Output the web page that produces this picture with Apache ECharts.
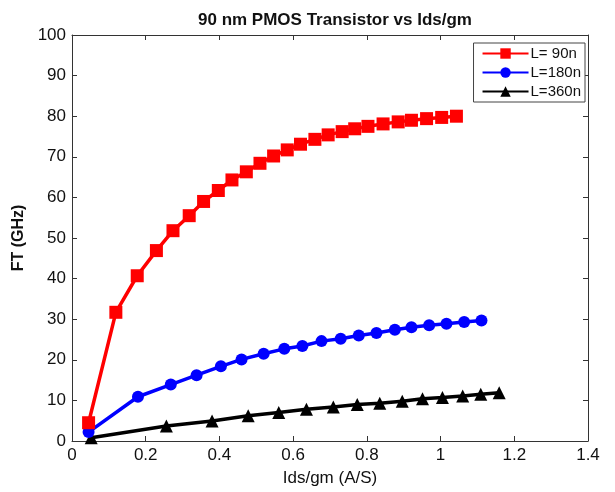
<!DOCTYPE html>
<html>
<head>
<meta charset="utf-8">
<script src="https://cdn.jsdelivr.net/npm/echarts@6/dist/echarts.min.js"></script>
<style>html,body{margin:0;padding:0;background:#fff;}#c{width:615px;height:492px;}</style>
</head>
<body>
<div id="c"></div>
<script>
var xL90 = [0.045, 0.119, 0.177, 0.229, 0.274, 0.318, 0.357, 0.397, 0.434, 0.473, 0.510, 0.547, 0.584, 0.620, 0.659, 0.695, 0.733, 0.767, 0.803, 0.844, 0.885, 0.921, 0.962, 1.003, 1.043];
var yL90 = [4.5, 31.7, 40.7, 46.9, 51.8, 55.5, 59.0, 61.7, 64.3, 66.3, 68.4, 70.2, 71.7, 73.1, 74.3, 75.4, 76.2, 76.9, 77.5, 78.1, 78.6, 79.0, 79.4, 79.7, 80.0];
var xL180 = [0.045, 0.179, 0.268, 0.338, 0.404, 0.460, 0.520, 0.576, 0.625, 0.677, 0.729, 0.778, 0.826, 0.876, 0.921, 0.969, 1.016, 1.064, 1.111];
var yL180 = [2.2, 10.9, 13.9, 16.2, 18.4, 20.1, 21.5, 22.7, 23.4, 24.6, 25.2, 26.0, 26.6, 27.4, 28.0, 28.5, 28.9, 29.3, 29.7];
var xL360 = [0.052, 0.256, 0.380, 0.478, 0.561, 0.636, 0.709, 0.774, 0.835, 0.896, 0.951, 1.005, 1.060, 1.109, 1.159];
var yL360 = [0.8, 3.7, 4.9, 6.2, 7.0, 7.8, 8.4, 9.0, 9.3, 9.8, 10.4, 10.7, 11.1, 11.5, 11.9];
var xTicks = [0, 0.2, 0.4, 0.6, 0.8, 1, 1.2, 1.4];
var yTicks = [0, 10, 20, 30, 40, 50, 60, 70, 80, 90, 100];
var seriesNames = ['L= 90n', 'L=180n', 'L=360n'];

function pairs(xs, ys) { return xs.map(function (x, i) { return [x, ys[i]]; }); }

var FONT = 'Liberation Sans, Arial, sans-serif';
var chart = echarts.init(document.getElementById('c'));
function axisCommon() {
  return {
    axisLine: { show: true, onZero: false, lineStyle: { color: '#333', width: 1 } },
    axisTick: { show: true, inside: true, length: 5, lineStyle: { color: '#333' } },
    splitLine: { show: false }
  };
}
chart.setOption({
  animation: false,
  backgroundColor: '#fff',
  title: {
    text: '90 nm PMOS Transistor vs Ids/gm',
    left: 330, top: 7, textAlign: 'center',
    textStyle: { fontFamily: FONT, fontSize: 17, fontWeight: 'bold', color: '#111' }
  },
  legend: {
    orient: 'vertical',
    right: 30, top: 43,
    backgroundColor: '#fff',
    borderColor: '#444', borderWidth: 1,
    padding: [3, 4, 3, 8],
    itemGap: 4,
    itemWidth: 46, itemHeight: 13,
    textStyle: { fontFamily: FONT, fontSize: 15, color: '#111', padding: [0, 0, 0, -3] },
    data: seriesNames
  },
  grid: { left: 72, right: 27, top: 35, bottom: 50, containLabel: false },
  xAxis: [
    Object.assign(axisCommon(), {
      type: 'value', min: 0, max: 1.4, interval: 0.2, position: 'bottom',
      name: 'Ids/gm (A/S)', nameLocation: 'middle', nameGap: 29,
      nameTextStyle: { fontFamily: FONT, fontSize: 17, color: '#111' },
      axisLabel: { fontFamily: FONT, fontSize: 17, color: '#111', margin: 6,
        formatter: function (v) { var s = xTicks.find(function (t) { return Math.abs(t - v) < 1e-9; }); return s === undefined ? '' : String(s); } }
    }),
    Object.assign(axisCommon(), {
      type: 'value', min: 0, max: 1.4, interval: 0.2, position: 'top',
      axisLabel: { show: false }
    })
  ],
  yAxis: [
    Object.assign(axisCommon(), {
      type: 'value', min: 0, max: 100, interval: 10, position: 'left',
      name: 'FT (GHz)', nameLocation: 'middle', nameGap: 40,
      nameTextStyle: { fontFamily: FONT, fontSize: 16, fontWeight: 'bold', color: '#111' },
      axisLabel: { fontFamily: FONT, fontSize: 17, color: '#111', margin: 6,
        formatter: function (v) { return yTicks.indexOf(v) >= 0 ? String(v) : ''; } }
    }),
    Object.assign(axisCommon(), {
      type: 'value', min: 0, max: 100, interval: 10, position: 'right',
      axisLabel: { show: false }
    })
  ],
  series: [
    { name: seriesNames[0], type: 'line', data: pairs(xL90, yL90), symbol: 'rect', symbolSize: 13,
      color: '#ff0000', lineStyle: { width: 3.5, color: '#ff0000' }, itemStyle: { color: '#ff0000' }, z: 3 },
    { name: seriesNames[1], type: 'line', data: pairs(xL180, yL180), symbol: 'circle', symbolSize: 12,
      color: '#0000ff', lineStyle: { width: 3.5, color: '#0000ff' }, itemStyle: { color: '#0000ff' }, z: 2 },
    { name: seriesNames[2], type: 'line', data: pairs(xL360, yL360), symbol: 'triangle', symbolSize: 13,
      color: '#000000', lineStyle: { width: 3.5, color: '#000000' }, itemStyle: { color: '#000000' }, z: 1 }
  ]
});
</script>
</body>
</html>
